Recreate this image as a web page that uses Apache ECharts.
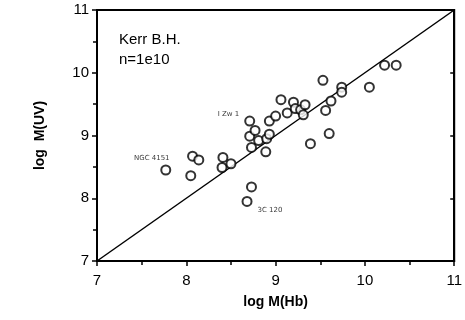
<!DOCTYPE html>
<html><head><meta charset="utf-8">
<script src="https://cdn.jsdelivr.net/npm/echarts@6/dist/echarts.min.js"></script>
<style>html,body{margin:0;padding:0;background:#fff}#c{width:465px;height:320px}</style>
</head><body><div id="c"></div>
<script>
const xTicks = [7, 8, 9, 10, 11];
const yTicks = [7, 8, 9, 10, 11];
const logMHb = [7.77, 8.05, 8.07, 8.14, 8.41, 8.40, 8.50, 8.71, 8.71, 8.77, 8.73, 8.81, 8.90, 8.93, 8.93, 9.00, 8.89, 8.73, 8.68, 9.06, 9.13, 9.20, 9.22, 9.28, 9.33, 9.31, 9.39, 9.53, 9.56, 9.62, 9.60, 9.74, 9.74, 10.05, 10.22, 10.35];
const logMUV = [8.45, 8.36, 8.67, 8.61, 8.65, 8.49, 8.55, 9.23, 8.99, 9.08, 8.81, 8.92, 8.95, 9.02, 9.23, 9.31, 8.74, 8.18, 7.95, 9.57, 9.36, 9.53, 9.43, 9.41, 9.49, 9.33, 8.87, 9.88, 9.40, 9.55, 9.03, 9.77, 9.69, 9.77, 10.12, 10.12];
const pointNames = {0: 'NGC 4151', 7: 'I Zw 1', 18: '3C 120'};
const diagonal = [7, 11];

const pts = logMHb.map((x, i) => {
  const d = {value: [x, logMUV[i]]};
  if (pointNames[i] !== undefined) {
    const pos = i === 0 ? {position: 'top', offset: [-14, 2]} : i === 7 ? {position: 'left', offset: [0, -7]} : {position: 'right', offset: [0, 9]};
    d.label = Object.assign({show: true, formatter: pointNames[i], fontSize: 7, color: '#000', fontFamily: 'DejaVu Sans'}, pos);
  }
  return d;
});

const chart = echarts.init(document.getElementById('c'));
const axisCommon = {
  min: xTicks[0], max: xTicks[xTicks.length - 1], interval: 1,
  axisLine: {show: true, lineStyle: {color: '#000', width: 2}},
  axisTick: {show: true, length: 5, lineStyle: {color: '#000', width: 1.5}},
  minorTick: {show: true, splitNumber: 2, length: 4, lineStyle: {color: '#000', width: 1.5}},
  splitLine: {show: false},
  axisLabel: {color: '#000', fontSize: 15, fontFamily: 'Liberation Sans'}
};
chart.setOption({
  animation: false,
  grid: {left: 97, right: 7, top: 10, bottom: 59, show: true, borderColor: '#000', borderWidth: 2},
  xAxis: Object.assign({}, axisCommon, {
    type: 'value', name: 'log M(Hb)', nameLocation: 'middle', nameGap: 34,
    nameTextStyle: {fontSize: 14, fontWeight: 'bold', color: '#000', fontFamily: 'Liberation Sans'},
    axisLabel: Object.assign({}, axisCommon.axisLabel, {margin: 12})
  }),
  yAxis: [Object.assign({}, axisCommon, {
    type: 'value', min: yTicks[0], max: yTicks[yTicks.length - 1],
    name: 'log  M(UV)', nameLocation: 'middle', nameGap: 50,
    nameTextStyle: {fontSize: 14, fontWeight: 'bold', color: '#000', fontFamily: 'Liberation Sans'},
    axisLabel: Object.assign({}, axisCommon.axisLabel, {margin: 8})
  }), Object.assign({}, axisCommon, {
    type: 'value', position: 'right', min: yTicks[0], max: yTicks[yTicks.length - 1],
    axisTick: {show: true, inside: true, length: 4, lineStyle: {color: '#000', width: 1.5}},
    minorTick: {show: false},
    axisLabel: {show: false}
  })],
  graphic: [{
    type: 'text', left: 119, top: 30,
    style: {text: 'Kerr B.H.\nn=1e10', fontSize: 15, lineHeight: 20, fill: '#000', fontFamily: 'Liberation Sans'}
  }],
  series: [{
    type: 'line', data: [[diagonal[0], diagonal[0]], [diagonal[1], diagonal[1]]],
    showSymbol: false, lineStyle: {color: '#000', width: 1.5}, z: 1
  }, {
    type: 'scatter', data: pts, symbol: 'circle', symbolSize: 9,
    itemStyle: {color: '#fff', borderColor: '#000', borderWidth: 2}, z: 3
  }]
});
</script></body></html>
